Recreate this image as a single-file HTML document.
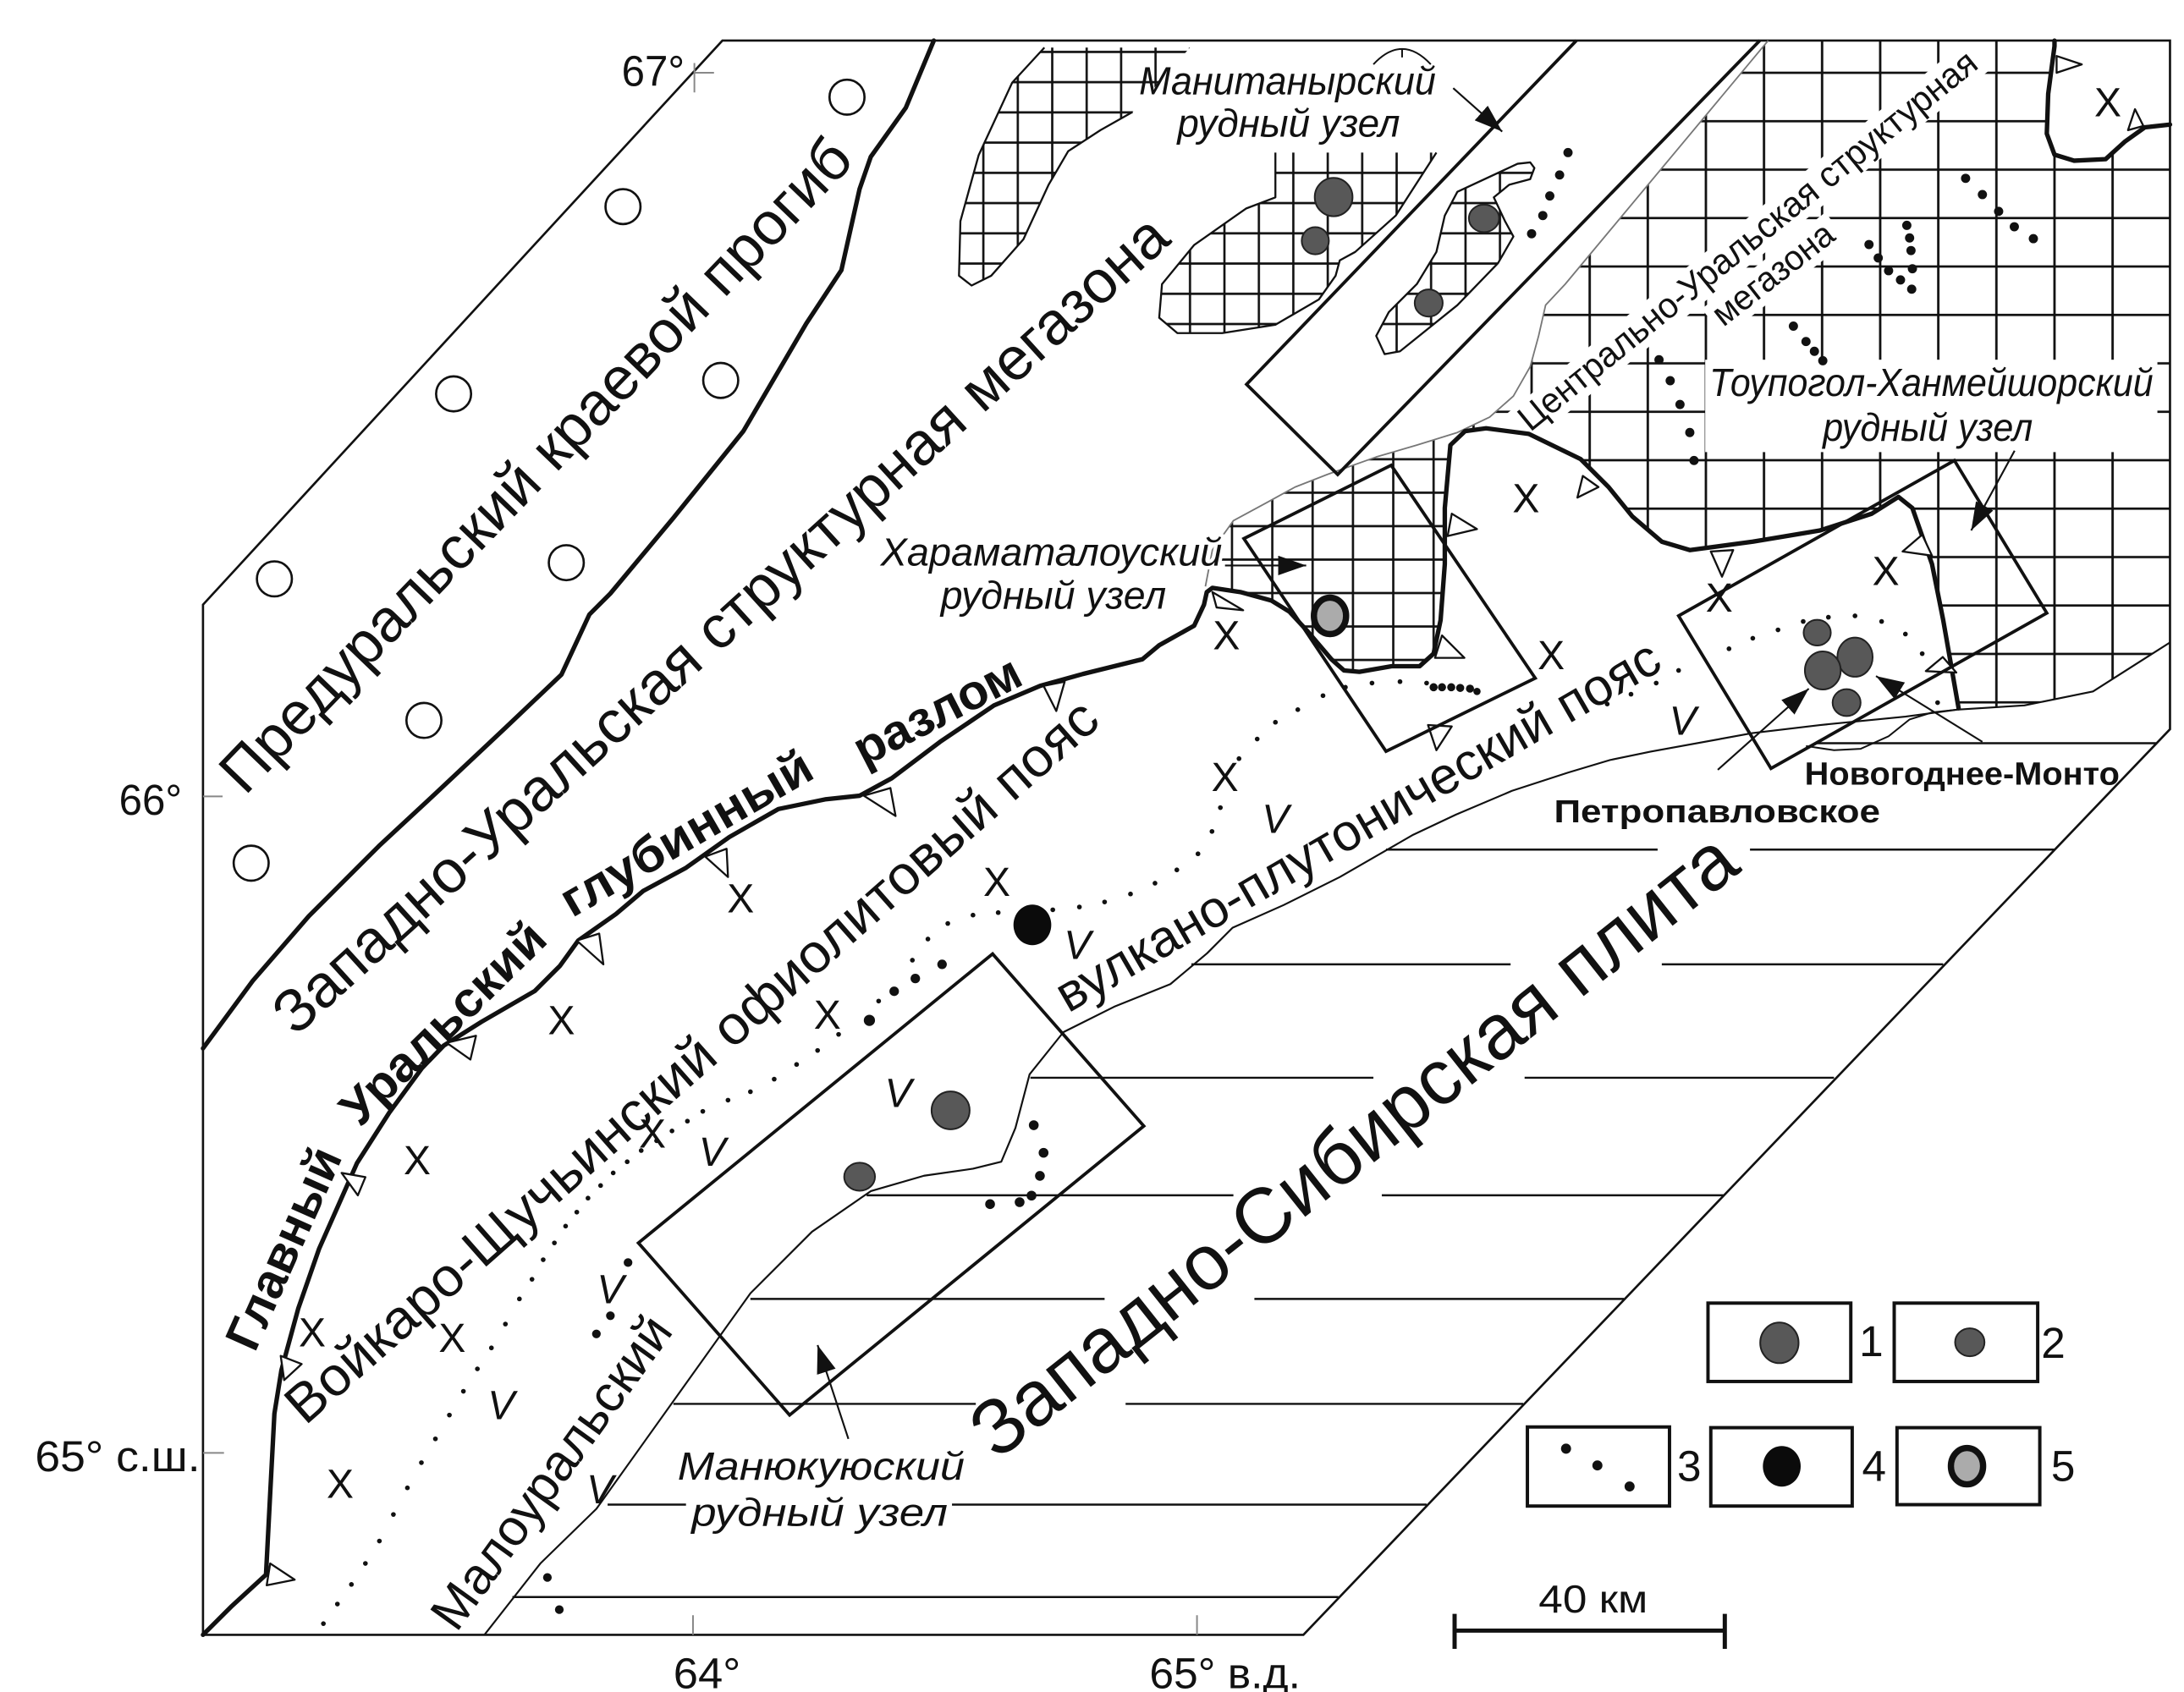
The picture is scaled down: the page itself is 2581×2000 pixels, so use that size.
<!DOCTYPE html>
<html>
<head>
<meta charset="utf-8">
<style>
html,body{margin:0;padding:0;background:#fff;overflow:hidden;}
svg{display:block;}
text{font-family:"Liberation Sans","DejaVu Sans",sans-serif;fill:#111;}
</style>
</head>
<body>
<svg xmlns="http://www.w3.org/2000/svg" width="2581" height="2000" viewBox="0 0 1560 1208.85" preserveAspectRatio="none">
<defs>
  <pattern id="gU" patternUnits="userSpaceOnUse" x="1156.25" y="34.7" width="41.5" height="34.6">
    <path d="M20.75,0 V34.6 M0,17.3 H41.5" stroke="#111" stroke-width="1.7" fill="none"/>
  </pattern>
  <pattern id="gH" patternUnits="userSpaceOnUse" x="865.6" y="340.05" width="28.8" height="23.9">
    <path d="M14.4,0 V23.9 M0,11.95 H28.8" stroke="#111" stroke-width="1.6" fill="none"/>
  </pattern>
  <pattern id="gB" patternUnits="userSpaceOnUse" x="837.7" y="47.9" width="24.6" height="21.6">
    <path d="M12.3,0 V21.6 M0,10.8 H24.6" stroke="#111" stroke-width="1.6" fill="none"/>
  </pattern>
  <marker id="ah" markerUnits="userSpaceOnUse" markerWidth="20" markerHeight="14" refX="20" refY="7" orient="auto">
    <path d="M0,0 L20,7 L0,14 Z" fill="#111"/>
  </marker>
</defs>

<rect x="0" y="0" width="1560" height="1208.85" fill="#fff"/>

<!-- hatched regions -->
<path d="M1263,29 L1550,29 L1550,459 L1495,494 L1446,504 L1399,506 L1388,443 L1380,403 L1366,363 L1356,355 L1337,367 L1300,379 L1252,387 L1207,393 L1187,387 L1166,369 L1149,348 L1129,328 L1092,310 L1061.5,306 L1046.5,308 L1041,309 L1064,298 L1081,283 L1093,262 L1099,240 L1104,218 L1118,203 Z" fill="url(#gU)"/>
<path d="M1041,309 L1012,318 L983,326.5 L948,339 L925,348 L905,359 L881,372 L866,393 L861,419 L866,420 L886,423 L908,429 L921,437 L934,451 L951,471 L960,479 L971,480 L994,476 L1014,476 L1024,467 L1029,443 L1032,403 L1032,363 L1036,318 Z" fill="url(#gH)"/>
<path d="M1467.5,29 L1467.5,33 L1463,67 L1462,95.5 L1467.5,110.5 L1481.5,114.8 L1504,113.7 L1518,101 L1532,91 L1548,89 L1550,89 L1550,29 Z" fill="#fff"/>
<path d="M746,34 L850,34 L809,80 L786,93 L763,108 L749,132 L731,171 L708,197 L694,204 L685,197 L686,158 L699,111 L723,59 Z" fill="url(#gB)"/>
<path d="M746,34 L723,59 L699,111 L686,158 L685,197 L694,204 L708,197 L731,171 L749,132 L763,108 L786,93 L809,80" fill="none" stroke="#111" stroke-width="1.4" stroke-linejoin="round"/>
<path d="M911,109 L911,141 L890,149 L853,175 L830,203 L828,227 L841,238 L873,238 L911,232 L942,214 L954,197 L957,186 L968,180 L997,154 L1026,109 Z" fill="url(#gB)"/>
<path d="M911,109 L911,141 L890,149 L853,175 L830,203 L828,227 L841,238 L873,238 L911,232 L942,214 L954,197 L957,186 L968,180 L997,154 L1026,109" fill="none" stroke="#111" stroke-width="1.4" stroke-linejoin="round"/>
<path d="M1093,116 L1084,117 L1041,137 L1032,154 L1026,180 L1012,203 L992,223 L983,240 L989,253 L1000,251 L1041,218 L1070,188 L1081,169 L1075,158 L1067,141 L1078,132 L1093,128 L1096,120 Z" fill="url(#gB)" stroke="#111" stroke-width="1.4" stroke-linejoin="round"/>

<!-- white label backgrounds over grid -->
<rect x="1218" y="257" width="323" height="66" fill="#fff"/>
<g transform="translate(1093,309) rotate(-39.1)"><rect x="-4" y="-21" width="422" height="27" fill="#fff"/></g>
<g transform="translate(1231,234) rotate(-38)"><rect x="-4" y="-20" width="112" height="26" fill="#fff"/></g>

<!-- West Siberian plate hatch lines -->
<path d="M1297,531H1540 M990,607H1184 M1250,607H1468 M851,689H1079 M1187,689H1388 M736,770H981 M1089,770H1310 M619,854H881 M987,854H1231 M536,928H789 M896,928H1160 M481,1003H697 M804,1003H1088 M434,1075H490 M680,1075H1019 M366,1141H956" stroke="#111" stroke-width="1.5" fill="none"/>

<!-- frame -->
<path d="M145,432 L516,29 L1550,29 L1550,521 L931,1168 L145,1168 Z" fill="none" stroke="#111" stroke-width="1.6"/>
<path d="M496,45 V66 M496,52 H510 M145,569 H159 M145,1038 H160 M495,1154 V1168 M855,1154 V1168" stroke="#888" stroke-width="1.2" fill="none"/>

<!-- thin lines -->
<path d="M346,1168 L386,1117 L426,1078 L481,1001 L536,924 L580,880 L622,851 L660,840 L695,835 L715.2,830 L725.3,805.9 L735.4,767.6 L759.6,737.4 L795.8,719.3 L836,703.1 L862.3,681 L880.4,662.8 L916.7,646.7 L957,626.6 L1009.4,596.4 L1040,582 L1080,565 L1120,552 L1150,543 L1179,537 L1251.6,523.8 L1300,518 L1361,512 L1398,507 L1446,504 L1495,494 L1550,459" fill="none" stroke="#111" stroke-width="1.3" stroke-linejoin="round"/>
<path d="M1290,533 L1310,536 L1329,535 L1349,526 L1364,514 L1380,509 L1398,507" fill="none" stroke="#111" stroke-width="1.2"/>
<path d="M1263,29 L1118,203 L1104,218 L1099,240 L1093,262 L1081,283 L1064,298 L1041,309 L1012,318 L983,326.5 L948,339 L925,348 L905,359 L881,372 L866,393 L861,419" fill="none" stroke="#777" stroke-width="1.1" stroke-linejoin="round"/>

<!-- thick fault lines -->
<g fill="none" stroke="#111" stroke-width="3.2" stroke-linejoin="round" stroke-linecap="round">
<path d="M145,1168 L165,1148 L190,1125 L193,1067 L196,1010 L201,979 L213,935 L228,892 L255,831 L278,795 L301.5,763 L317,747 L344,730 L382,708 L400,690 L413,672 L440,653 L459.5,636.5 L490,620 L521,598 L556,578 L590,571 L614,568.5 L637,556 L671.5,530 L710,504 L743,490 L773.6,481.5 L816,471 L828,461 L853,447 L860,432 L862,423 L866,420 L886,423 L908,429 L921,437 L934,451 L951,471 L960,479 L971,480 L994,476 L1014,476 L1024,467 L1029,443 L1032,403 L1032,363 L1036,318 L1046.5,308 L1061.5,306 L1092,310 L1129,328 L1149,348 L1166,369 L1187,387 L1207,393 L1252,387 L1300,379 L1337,367 L1356,355 L1366,363 L1380,403 L1388,443 L1399,506"/>
<path d="M667,29 L647,77 L622,112 L614,135 L601,193 L576,231 L531,308 L481,370 L436,424 L421,439 L401,482 L361,520 L311,567 L270.7,604.4 L220.6,654.5 L180.5,700.8 L145,749"/>
<path d="M1467.5,29 L1467.5,33 L1463,67 L1462,95.5 L1467.5,110.5 L1481.5,114.8 L1504,113.7 L1518,101 L1532,91 L1550,89"/>
</g>

<!-- fault triangles -->
<g fill="#fff" stroke="#111" stroke-width="1.4" stroke-linejoin="round">
<polygon points="193,1117 210.5,1128.6 190.5,1132.6"/>
<polygon points="200.5,968.7 215.5,974.5 203,986"/>
<polygon points="244,838 261,841 255.6,854"/>
<polygon points="319,745 340,740 336,757"/>
<polygon points="412,672 428,667 431,689"/>
<polygon points="503.7,612 519,606.4 520,626.6"/>
<polygon points="617,568.5 636,563 639.7,583"/>
<polygon points="745.4,490 760.5,487 754.5,508"/>
<polygon points="866,423 888,436 869,434"/>
<polygon points="1037,367 1055,378 1034,383"/>
<polygon points="1030,454 1046,470 1025,470"/>
<polygon points="1020,518 1037,519 1026,536"/>
<polygon points="1130.6,340 1141.8,348 1126.7,355.5"/>
<polygon points="1222,394 1238,393 1230,412"/>
<polygon points="1373,382 1359,394 1380,397"/>
<polygon points="1387.7,469.4 1375.6,479.5 1397.4,480.5"/>
<polygon points="1469,40 1487,46 1469,52"/>
<polygon points="1520,93 1525,78 1531,90"/>
</g>

<!-- rotated rectangles -->
<g fill="none" stroke="#111" stroke-width="2.3" stroke-linejoin="miter">
<path d="M1126,29 L890.4,274.6 L955.5,339 L1257,29"/>
<polygon points="888.5,384.8 993.7,332.4 1096.6,484.5 990,536.8"/>
<polygon points="1199,440 1396,329 1462,438 1265,549"/>
<polygon points="456,888 709,681.5 817,804.5 564,1011"/>
</g>

<!-- open circles -->
<g fill="#fff" stroke="#111" stroke-width="1.6">
<circle cx="605" cy="69.4" r="12.5"/>
<circle cx="445" cy="147.6" r="12.5"/>
<circle cx="324" cy="281.4" r="12.5"/>
<circle cx="514.8" cy="271.8" r="12.5"/>
<circle cx="196" cy="413.6" r="12.5"/>
<circle cx="404.5" cy="402" r="12.5"/>
<circle cx="302.8" cy="514.7" r="12.5"/>
<circle cx="179.4" cy="616.7" r="12.5"/>
</g>

<path d="M981,46 Q1001.5,24 1022,46 M1001.5,35 V41" fill="none" stroke="#111" stroke-width="1.2"/>

<!-- arrows -->
<g stroke="#111" stroke-width="1.3" fill="none" marker-end="url(#ah)">
<path d="M1038,63 L1073,94"/>
<path d="M875,404 L933,404"/>
<path d="M1439,322 L1408,379"/>
<path d="M1227,550 L1292,492"/>
<path d="M1416,530 L1340,483"/>
<path d="M606,1028 L584,961"/>
</g>

<!-- small dots -->
<g fill="#111">
<circle cx="231" cy="1160" r="1.7"/><circle cx="241" cy="1146" r="1.7"/><circle cx="251" cy="1132" r="1.7"/><circle cx="261" cy="1117" r="1.7"/><circle cx="271" cy="1101" r="1.7"/><circle cx="281" cy="1082" r="1.7"/><circle cx="291" cy="1063" r="1.7"/><circle cx="301" cy="1045" r="1.7"/><circle cx="311" cy="1028" r="1.7"/><circle cx="321" cy="1011" r="1.7"/><circle cx="331" cy="994" r="1.7"/><circle cx="341" cy="978" r="1.7"/><circle cx="351" cy="963" r="1.7"/><circle cx="361" cy="946" r="1.7"/><circle cx="371" cy="928" r="1.7"/><circle cx="380" cy="914" r="1.7"/><circle cx="388" cy="900" r="1.7"/><circle cx="396" cy="888" r="1.7"/><circle cx="404" cy="876" r="1.7"/><circle cx="412" cy="866" r="1.7"/><circle cx="420" cy="856" r="1.7"/><circle cx="429" cy="847" r="1.7"/><circle cx="438" cy="838" r="1.7"/><circle cx="448" cy="830" r="1.7"/><circle cx="458" cy="822" r="1.7"/><circle cx="469" cy="815" r="1.7"/><circle cx="480" cy="808" r="1.7"/><circle cx="491" cy="801" r="1.7"/><circle cx="502" cy="794" r="1.7"/><circle cx="520" cy="786" r="1.7"/><circle cx="536" cy="780" r="1.7"/><circle cx="553" cy="771" r="1.7"/><circle cx="569" cy="760.5" r="1.7"/><circle cx="584" cy="750.5" r="1.7"/><circle cx="599" cy="739" r="1.7"/><circle cx="627.6" cy="715.2" r="1.7"/><circle cx="651.7" cy="686" r="1.7"/><circle cx="662.8" cy="670.9" r="1.7"/><circle cx="677" cy="659.8" r="1.7"/><circle cx="695" cy="653.8" r="1.7"/><circle cx="713" cy="652" r="1.7"/><circle cx="752" cy="650" r="1.7"/><circle cx="771" cy="648" r="1.7"/><circle cx="789" cy="644.4" r="1.7"/><circle cx="807.5" cy="638.7" r="1.7"/><circle cx="825" cy="631" r="1.7"/><circle cx="840.6" cy="621.5" r="1.7"/><circle cx="855.7" cy="610" r="1.7"/><circle cx="865.7" cy="594" r="1.7"/><circle cx="871.7" cy="577" r="1.7"/><circle cx="885" cy="542" r="1.7"/><circle cx="898" cy="528" r="1.7"/><circle cx="911" cy="516" r="1.7"/><circle cx="927" cy="507" r="1.7"/><circle cx="945" cy="497" r="1.7"/><circle cx="961" cy="491" r="1.7"/><circle cx="980" cy="488" r="1.7"/><circle cx="1000" cy="487" r="1.7"/><circle cx="1019" cy="488" r="1.7"/>
<circle cx="1148" cy="503" r="1.7"/><circle cx="1165" cy="496" r="1.7"/><circle cx="1183" cy="488" r="1.7"/><circle cx="1199" cy="479" r="1.7"/><circle cx="1235" cy="463.5" r="1.7"/><circle cx="1252" cy="456" r="1.7"/><circle cx="1270" cy="450" r="1.7"/><circle cx="1288" cy="444" r="1.7"/><circle cx="1306" cy="441" r="1.7"/><circle cx="1325" cy="440" r="1.7"/><circle cx="1344" cy="444" r="1.7"/><circle cx="1361" cy="453" r="1.7"/><circle cx="1373" cy="467" r="1.7"/><circle cx="1384" cy="502" r="1.7"/>
</g>

<!-- larger dots -->
<g fill="#111">
<circle cx="621" cy="729" r="4"/><circle cx="638.7" cy="708.2" r="3.4"/><circle cx="653.8" cy="699.1" r="3.4"/><circle cx="672.9" cy="689" r="3.4"/>
<circle cx="1024" cy="491" r="2.9"/><circle cx="1030" cy="491" r="2.9"/><circle cx="1036.6" cy="491" r="2.9"/><circle cx="1043" cy="491.5" r="2.9"/><circle cx="1050" cy="492" r="2.9"/><circle cx="1055" cy="494" r="2.6"/>
<circle cx="738.4" cy="803.9" r="3.5"/><circle cx="745.4" cy="823.6" r="3.5"/><circle cx="742.8" cy="840.1" r="3.5"/><circle cx="736.8" cy="854.2" r="3.5"/><circle cx="728.3" cy="858.9" r="3.5"/><circle cx="707.2" cy="860.3" r="3.5"/>
<circle cx="448.6" cy="902" r="3.1"/><circle cx="436" cy="940" r="3.1"/><circle cx="426" cy="953" r="3.1"/><circle cx="391" cy="1127" r="3.1"/><circle cx="399.5" cy="1150" r="3.1"/>
<circle cx="1120" cy="109" r="3.3"/><circle cx="1114" cy="125" r="3.3"/><circle cx="1107" cy="140" r="3.3"/><circle cx="1102" cy="154" r="3.3"/><circle cx="1094" cy="167" r="3.3"/>
<circle cx="1362" cy="161" r="3.3"/><circle cx="1364" cy="170" r="3.3"/><circle cx="1365" cy="179" r="3.3"/><circle cx="1366" cy="192" r="3.3"/><circle cx="1365.5" cy="206.6" r="3.3"/>
<circle cx="1335" cy="174.7" r="3.3"/><circle cx="1341.6" cy="184.3" r="3.3"/><circle cx="1349" cy="193.4" r="3.3"/><circle cx="1357.5" cy="200" r="3.3"/>
<circle cx="1404" cy="127.4" r="3.3"/><circle cx="1416" cy="139" r="3.3"/><circle cx="1427.6" cy="151" r="3.3"/><circle cx="1438.8" cy="162" r="3.3"/><circle cx="1452.4" cy="170.5" r="3.3"/>
<circle cx="1281" cy="233" r="3.3"/><circle cx="1290" cy="244" r="3.3"/><circle cx="1296" cy="251" r="3.3"/><circle cx="1302" cy="257.7" r="3.3"/>
<circle cx="1185" cy="257" r="3.3"/><circle cx="1193" cy="272" r="3.3"/><circle cx="1200" cy="289" r="3.3"/><circle cx="1207" cy="309" r="3.3"/><circle cx="1210" cy="329" r="3.3"/>
<circle cx="1118.6" cy="1035" r="3.6"/><circle cx="1141" cy="1047" r="3.6"/><circle cx="1164" cy="1062" r="3.6"/>
</g>

<!-- ore circles -->
<g fill="#585858" stroke="#222" stroke-width="1.2">
<ellipse cx="952.6" cy="140.8" rx="13.5" ry="13.7"/>
<ellipse cx="939.5" cy="172" rx="9.7" ry="9.7"/>
<ellipse cx="1060" cy="156" rx="10.8" ry="9.8"/>
<ellipse cx="1020.5" cy="216.5" rx="10" ry="9.7"/>
<ellipse cx="1298" cy="452" rx="9.7" ry="9.2"/>
<ellipse cx="1325" cy="469.5" rx="12.6" ry="14"/>
<ellipse cx="1302" cy="479" rx="12.8" ry="13.6"/>
<ellipse cx="1319" cy="502" rx="10" ry="9.6"/>
<ellipse cx="679" cy="793.3" rx="13.6" ry="13.5"/>
<ellipse cx="614" cy="840.7" rx="11" ry="10"/>
<ellipse cx="1271" cy="959.4" rx="13.7" ry="14.5"/>
<ellipse cx="1407" cy="959" rx="10.5" ry="10"/>
</g>
<ellipse cx="737.4" cy="660.8" rx="13.5" ry="14.5" fill="#0b0b0b"/>
<ellipse cx="1272.7" cy="1047.6" rx="13.5" ry="14.5" fill="#0b0b0b"/>
<ellipse cx="950" cy="440" rx="11.5" ry="13" fill="#ababab" stroke="#111" stroke-width="4.5"/>
<ellipse cx="1405" cy="1047.5" rx="11.5" ry="13" fill="#ababab" stroke="#111" stroke-width="4.5"/>

<!-- X and V marks -->
<g font-size="29" text-anchor="middle">
<text x="1505.6" y="83">X</text>
<text x="1090" y="366">X</text>
<text x="876" y="464">X</text>
<text x="1108" y="478">X</text>
<text x="1228" y="437">X</text>
<text x="1347" y="418">X</text>
<text x="875" y="565">X</text>
<text x="712" y="640">X</text>
<text x="529" y="652">X</text>
<text x="401" y="739">X</text>
<text x="591" y="735">X</text>
<text x="298" y="839">X</text>
<text x="466" y="820">X</text>
<text x="223" y="962">X</text>
<text x="323" y="966">X</text>
<text x="243" y="1070">X</text>
</g>
<g font-size="29" text-anchor="middle" font-style="italic">
<text x="1202" y="525">V</text>
<text x="911" y="595">V</text>
<text x="769.6" y="685">V</text>
<text x="641.6" y="791">V</text>
<text x="508.8" y="833">V</text>
<text x="436" y="931">V</text>
<text x="358" y="1014">V</text>
<text x="428.6" y="1074">V</text>
</g>

<!-- big rotated labels -->
<text transform="translate(175,569) rotate(-46.1)" font-size="43" textLength="629" lengthAdjust="spacingAndGlyphs">Предуральский краевой прогиб</text>
<text transform="translate(211,741) rotate(-42.2)" font-size="43" textLength="846" lengthAdjust="spacingAndGlyphs">Западно-Уральская структурная мегазона</text>
<g font-size="35" font-weight="bold">
<text transform="translate(182,967) rotate(-65.9)" textLength="154" lengthAdjust="spacingAndGlyphs">Главный</text>
<text transform="translate(257,806) rotate(-44.5)" textLength="190" lengthAdjust="spacingAndGlyphs">Уральский</text>
<text transform="translate(408.5,656) rotate(-30)" textLength="202" lengthAdjust="spacingAndGlyphs">глубинный</text>
<text transform="translate(617,548) rotate(-27.3)" textLength="130" lengthAdjust="spacingAndGlyphs">разлом</text>
</g>
<text transform="translate(218,1019) rotate(-41.4)" font-size="39" textLength="759" lengthAdjust="spacingAndGlyphs">Войкаро-Щучьинский офиолитовый пояс</text>
<text transform="translate(763,724) rotate(-30.05)" font-size="37" textLength="492" lengthAdjust="spacingAndGlyphs">вулкано-плутонический пояс</text>
<text transform="translate(326,1167) rotate(-54.2)" font-size="36.5" textLength="266" lengthAdjust="spacingAndGlyphs">Малоуральский</text>
<text transform="translate(712,1044) rotate(-38.4)" font-size="56" textLength="680" lengthAdjust="spacingAndGlyphs">Западно-Сибирская плита</text>
<text transform="translate(1093,309) rotate(-39.1)" font-size="25.5" textLength="414" lengthAdjust="spacingAndGlyphs">Центрально-Уральская структурная</text>
<text transform="translate(1231,234) rotate(-38)" font-size="25" textLength="103" lengthAdjust="spacingAndGlyphs">мегазона</text>

<!-- italic ore-node labels -->
<g font-style="italic" font-size="28">
<text x="813.6" y="67.3" textLength="212" lengthAdjust="spacingAndGlyphs">Манитанырский</text>
<text x="841" y="97.6" textLength="159" lengthAdjust="spacingAndGlyphs">рудный узел</text>
<text x="629" y="404" textLength="244" lengthAdjust="spacingAndGlyphs" stroke="#fff" stroke-width="5" paint-order="stroke">Хараматалоуский</text>
<text x="672" y="435" textLength="161" lengthAdjust="spacingAndGlyphs" stroke="#fff" stroke-width="5" paint-order="stroke">рудный узел</text>
<text x="1221" y="283" textLength="317" lengthAdjust="spacingAndGlyphs">Тоупогол-Ханмейшорский</text>
<text x="1302" y="315" textLength="150" lengthAdjust="spacingAndGlyphs">рудный узел</text>
<text x="484" y="1057" textLength="205" lengthAdjust="spacingAndGlyphs">Манюкуюский</text>
<text x="494" y="1090" textLength="183" lengthAdjust="spacingAndGlyphs">рудный узел</text>
</g>
<g font-weight="bold" font-size="23">
<text x="1289" y="560.5" textLength="225" lengthAdjust="spacingAndGlyphs">Новогоднее-Монто</text>
<text x="1110" y="587.5" textLength="233" lengthAdjust="spacingAndGlyphs">Петропавловское</text>
</g>

<!-- coordinate labels -->
<g font-size="31">
<text x="444" y="61.5" textLength="45" lengthAdjust="spacingAndGlyphs">67°</text>
<text x="85" y="582" textLength="45" lengthAdjust="spacingAndGlyphs">66°</text>
<text x="25" y="1051" textLength="118" lengthAdjust="spacingAndGlyphs">65° с.ш.</text>
<text x="481" y="1206" textLength="48" lengthAdjust="spacingAndGlyphs">64°</text>
<text x="821" y="1206" textLength="108" lengthAdjust="spacingAndGlyphs">65° в.д.</text>
</g>

<!-- legend -->
<g fill="none" stroke="#111" stroke-width="2.4">
<rect x="1220" y="931" width="102" height="56"/>
<rect x="1353" y="931" width="102.5" height="56"/>
<rect x="1091" y="1019.5" width="101.5" height="56.5"/>
<rect x="1222" y="1020" width="101" height="56"/>
<rect x="1355" y="1020" width="102" height="55"/>
</g>
<g font-size="31">
<text x="1328" y="969">1</text>
<text x="1458" y="970">2</text>
<text x="1198" y="1058">3</text>
<text x="1330" y="1058">4</text>
<text x="1465" y="1058">5</text>
</g>

<!-- scale bar -->
<path d="M1039,1165 H1232 M1039,1153 V1178 M1232,1153 V1178" stroke="#111" stroke-width="3" fill="none"/>
<text x="1099" y="1152" font-size="28" textLength="78" lengthAdjust="spacingAndGlyphs">40 км</text>
</svg>
</body>
</html>
